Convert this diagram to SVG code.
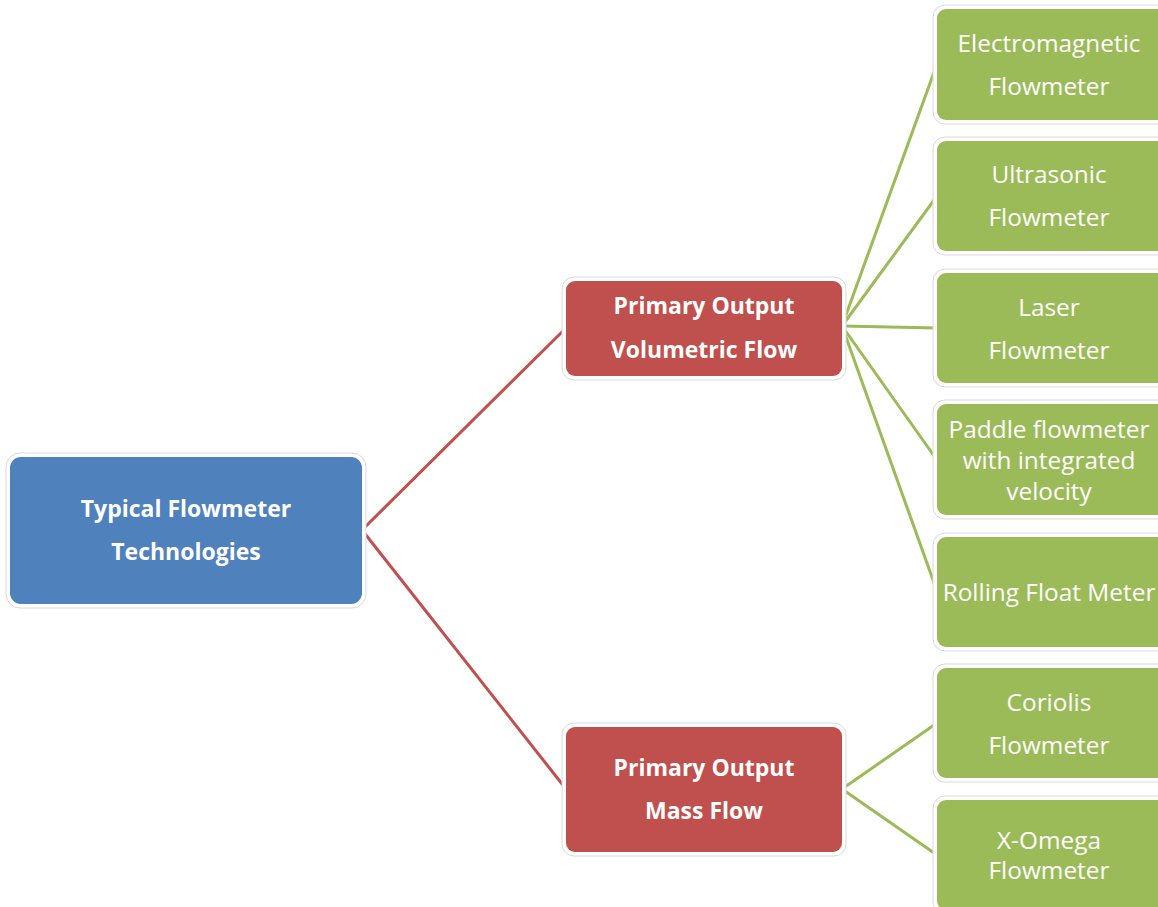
<svg xmlns="http://www.w3.org/2000/svg" width="1158" height="907" viewBox="0 0 1158 907">
<style>
.halo{fill:#fff;stroke:#d9d9d9;stroke-width:1}
.blue{fill:#4f81bd}
.red{fill:#c0504d}
.green{fill:#9bbb59}
.t{font-family:"Open Sans","Liberation Sans",sans-serif;fill:#fff;text-anchor:middle;dominant-baseline:central}
.b{font-weight:bold;font-size:23px}
.g{font-size:24.4px}
.rl{stroke:#c0504d;stroke-width:3;fill:none}
.gl{stroke:#9bbb59;stroke-width:3;fill:none}
</style>
<rect width="1158" height="907" fill="#fff"/>
<g id="connectors">
<path class="rl" d="M362,530 L566,328"/>
<path class="rl" d="M362,530 L566,789"/>
<path class="gl" d="M842,326 L937,64"/>
<path class="gl" d="M842,326 L937,196"/>
<path class="gl" d="M842,326 L937,328"/>
<path class="gl" d="M842,326 L937,460"/>
<path class="gl" d="M842,326 L937,591"/>
<path class="gl" d="M842,789 L937,723"/>
<path class="gl" d="M842,789 L937,855"/>
</g>
<g id="root">
<rect class="halo" x="6" y="453" width="360" height="155" rx="14"/>
<rect class="blue" x="10" y="457" width="352" height="147" rx="11"/>
<text class="t b" x="186" y="508">Typical Flowmeter</text>
<text class="t b" x="186" y="551">Technologies</text>
</g>
<g id="volumetric">
<rect class="halo" x="562" y="277" width="284" height="103" rx="12"/>
<rect class="red" x="566" y="281" width="276" height="95" rx="9"/>
<text class="t b" x="704" y="305">Primary Output</text>
<text class="t b" x="704" y="349">Volumetric Flow</text>
</g>
<g id="mass">
<rect class="halo" x="562" y="723" width="284" height="133" rx="12"/>
<rect class="red" x="566" y="727" width="276" height="125" rx="9"/>
<text class="t b" x="704" y="767">Primary Output</text>
<text class="t b" x="704" y="810">Mass Flow</text>
</g>
<g id="electromagnetic">
<rect class="halo" x="933" y="5" width="240" height="119" rx="12"/>
<rect class="green" x="937" y="9" width="232" height="111" rx="9"/>
<text class="t g" x="1049" y="42">Electromagnetic</text>
<text class="t g" x="1049" y="85">Flowmeter</text>
</g>
<g id="ultrasonic">
<rect class="halo" x="933" y="137" width="240" height="118" rx="12"/>
<rect class="green" x="937" y="141" width="232" height="110" rx="9"/>
<text class="t g" x="1049" y="173">Ultrasonic</text>
<text class="t g" x="1049" y="216">Flowmeter</text>
</g>
<g id="laser">
<rect class="halo" x="933" y="269" width="240" height="118" rx="12"/>
<rect class="green" x="937" y="273" width="232" height="110" rx="9"/>
<text class="t g" x="1049" y="306">Laser</text>
<text class="t g" x="1049" y="349">Flowmeter</text>
</g>
<g id="paddle">
<rect class="halo" x="933" y="400" width="240" height="119" rx="12"/>
<rect class="green" x="937" y="404" width="232" height="111" rx="9"/>
<text class="t g" x="1049" y="428">Paddle flowmeter</text>
<text class="t g" x="1049" y="459">with integrated</text>
<text class="t g" x="1049" y="490">velocity</text>
</g>
<g id="rolling">
<rect class="halo" x="933" y="533" width="240" height="118" rx="12"/>
<rect class="green" x="937" y="537" width="232" height="110" rx="9"/>
<text class="t g" x="1049" y="591">Rolling Float Meter</text>
</g>
<g id="coriolis">
<rect class="halo" x="933" y="664" width="240" height="118" rx="12"/>
<rect class="green" x="937" y="668" width="232" height="110" rx="9"/>
<text class="t g" x="1049" y="701">Coriolis</text>
<text class="t g" x="1049" y="744">Flowmeter</text>
</g>
<g id="xomega">
<rect class="halo" x="933" y="796" width="240" height="118" rx="12"/>
<rect class="green" x="937" y="800" width="232" height="110" rx="9"/>
<text class="t g" x="1049" y="839">X-Omega</text>
<text class="t g" x="1049" y="869">Flowmeter</text>
</g>
</svg>
